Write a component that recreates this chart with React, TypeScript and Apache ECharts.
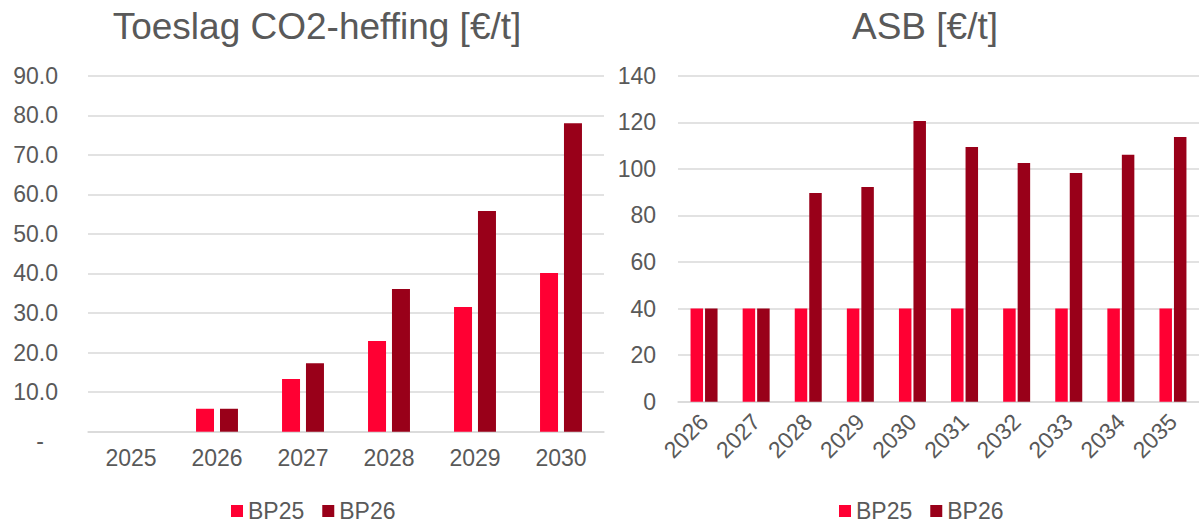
import React, { useEffect, useRef } from "react";
import * as echarts from "echarts";

const leftYears = ["2025", "2026", "2027", "2028", "2029", "2030"];
const leftBP25 = [0, 5.8, 13.3, 22.9, 31.5, 40.1];
const leftBP26 = [0, 5.8, 17.3, 36.1, 55.8, 78.0];

const rightYears = ["2026", "2027", "2028", "2029", "2030", "2031", "2032", "2033", "2034", "2035"];
const rightBP25 = [40, 40, 40, 40, 40, 40, 40, 40, 40, 40];
const rightBP26 = [40, 40, 89.6, 92.2, 120.5, 109.4, 102.5, 98.2, 106.0, 113.7];

const titles = ["Toeslag CO2-heffing [€/t]", "ASB [€/t]"];
const seriesNames = ["BP25", "BP26"];

const C1 = "#FF0033";
const C2 = "#990019";
const TXT = "#595959";
const GRID = "#D9D9D9";
const FONT = "Liberation Sans, Arial, sans-serif";

export default function App() {
  const ref = useRef<HTMLDivElement>(null);
  useEffect(() => {
    if (!ref.current) return;
    const chart = echarts.init(ref.current, null, { renderer: "svg" });
    const axisLabel = { color: TXT, fontSize: 23, fontFamily: FONT };
    const legendBase = {
      data: seriesNames, top: 499, padding: 0, itemWidth: 12, itemHeight: 12, itemGap: 18, icon: "rect",
      textStyle: { color: TXT, fontSize: 23, fontFamily: FONT, lineHeight: 24 },
    };
    chart.setOption({
      animation: false,
      textStyle: { fontFamily: FONT },
      title: [
        { text: titles[0], left: 312, top: 3, textAlign: "center", textStyle: { color: TXT, fontSize: 37, fontWeight: "normal", fontFamily: FONT } },
        { text: titles[1], left: 920, top: 3, textAlign: "center", textStyle: { color: TXT, fontSize: 37, fontWeight: "normal", fontFamily: FONT } },
      ],
      legend: [
        { ...legendBase, left: 231 },
        { ...legendBase, left: 839 },
      ],
      grid: [
        { left: 88, right: 595, top: 75.7, bottom: 91.3, containLabel: false },
        { left: 678, right: -13, top: 75.7, bottom: 121.3, containLabel: false },
      ],
      xAxis: [
        {
          type: "category", gridIndex: 0, data: leftYears,
          axisLine: { lineStyle: { color: GRID, width: 1.5 } }, axisTick: { show: false },
          axisLabel: { ...axisLabel, margin: 15 },
        },
        {
          type: "category", gridIndex: 1, data: rightYears,
          axisLine: { lineStyle: { color: GRID, width: 1.5 } }, axisTick: { show: false },
          axisLabel: { ...axisLabel, rotate: 45, margin: 16 },
        },
      ],
      yAxis: [
        {
          type: "value", gridIndex: 0, min: 0, max: 90, interval: 10,
          axisLine: { show: false }, axisTick: { show: false },
          splitLine: { lineStyle: { color: GRID, width: 1.5 } },
          axisLabel: {
            ...axisLabel, margin: 30,
            formatter: (v: number) => (v === 0 ? "{d|-}" : v.toFixed(1)),
            rich: { d: { color: TXT, fontSize: 23, fontFamily: FONT, padding: [18, 14, 0, 0] } },
          },
        },
        {
          type: "value", gridIndex: 1, min: 0, max: 140, interval: 20,
          axisLine: { show: false }, axisTick: { show: false },
          splitLine: { lineStyle: { color: GRID, width: 1.5 } },
          axisLabel: { ...axisLabel, margin: 22 },
        },
      ],
      series: [
        { name: seriesNames[0], type: "bar", xAxisIndex: 0, yAxisIndex: 0, data: leftBP25, barWidth: 18, barGap: "33%", itemStyle: { color: C1 } },
        { name: seriesNames[1], type: "bar", xAxisIndex: 0, yAxisIndex: 0, data: leftBP26, barWidth: 18, barGap: "33%", itemStyle: { color: C2 } },
        { name: seriesNames[0], type: "bar", xAxisIndex: 1, yAxisIndex: 1, data: rightBP25, barWidth: 12.5, barGap: "16%", itemStyle: { color: C1 } },
        { name: seriesNames[1], type: "bar", xAxisIndex: 1, yAxisIndex: 1, data: rightBP26, barWidth: 12.5, barGap: "16%", itemStyle: { color: C2 } },
      ],
    });
    return () => chart.dispose();
  }, []);
  return <div ref={ref} style={{ position: "absolute", left: 0, top: 0, width: 1199, height: 523 }} />;
}
